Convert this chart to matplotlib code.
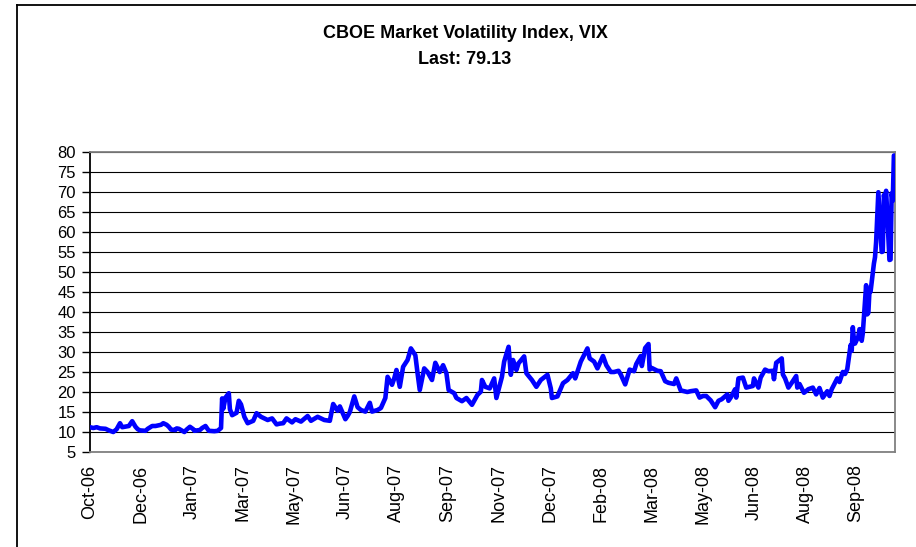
import matplotlib
matplotlib.use('Agg')
import matplotlib.pyplot as plt
from matplotlib.lines import Line2D
import pandas as pd

plt.rcParams['font.family'] = ['Liberation Sans', 'DejaVu Sans']

dates = [
    '2006-10-31', '2006-11-03', '2006-11-06', '2006-11-09', '2006-11-14', '2006-11-17', '2006-11-21',
    '2006-11-24', '2006-11-27', '2006-11-29', '2006-12-01', '2006-12-05', '2006-12-08', '2006-12-11',
    '2006-12-13', '2006-12-15', '2006-12-20', '2006-12-22', '2006-12-26', '2006-12-29', '2007-01-03',
    '2007-01-05', '2007-01-08', '2007-01-10', '2007-01-12', '2007-01-16', '2007-01-17', '2007-01-19',
    '2007-01-24', '2007-01-26', '2007-01-29', '2007-02-01', '2007-02-02', '2007-02-07', '2007-02-09',
    '2007-02-12', '2007-02-15', '2007-02-20', '2007-02-23', '2007-02-26', '2007-02-27', '2007-02-28',
    '2007-03-01', '2007-03-02', '2007-03-05', '2007-03-06', '2007-03-08', '2007-03-12', '2007-03-14',
    '2007-03-16', '2007-03-19', '2007-03-22', '2007-03-27', '2007-03-30', '2007-04-03', '2007-04-09',
    '2007-04-13', '2007-04-17', '2007-04-20', '2007-04-23', '2007-04-26', '2007-05-01', '2007-05-04',
    '2007-05-09', '2007-05-15', '2007-05-18', '2007-05-24', '2007-05-30', '2007-06-04', '2007-06-07',
    '2007-06-11', '2007-06-13', '2007-06-18', '2007-06-20', '2007-06-22', '2007-06-26', '2007-06-29',
    '2007-07-02', '2007-07-06', '2007-07-10', '2007-07-12', '2007-07-17', '2007-07-20', '2007-07-24',
    '2007-07-26', '2007-07-30', '2007-08-01', '2007-08-03', '2007-08-06', '2007-08-09', '2007-08-13',
    '2007-08-16', '2007-08-20', '2007-08-22', '2007-08-24', '2007-08-28', '2007-08-31', '2007-09-04',
    '2007-09-07', '2007-09-11', '2007-09-14', '2007-09-17', '2007-09-19', '2007-09-24', '2007-09-26',
    '2007-10-01', '2007-10-05', '2007-10-10', '2007-10-15', '2007-10-18', '2007-10-19', '2007-10-22',
    '2007-10-26', '2007-10-30', '2007-11-01', '2007-11-06', '2007-11-08', '2007-11-12', '2007-11-14',
    '2007-11-16', '2007-11-19', '2007-11-21', '2007-11-26', '2007-11-28', '2007-12-03', '2007-12-07',
    '2007-12-11', '2007-12-17', '2007-12-20', '2007-12-21', '2007-12-26', '2007-12-31', '2008-01-04',
    '2008-01-09', '2008-01-11', '2008-01-16', '2008-01-22', '2008-01-24', '2008-01-28', '2008-01-31',
    '2008-02-05', '2008-02-08', '2008-02-12', '2008-02-15', '2008-02-19', '2008-02-21', '2008-02-25',
    '2008-02-29', '2008-03-04', '2008-03-06', '2008-03-10', '2008-03-11', '2008-03-14', '2008-03-17',
    '2008-03-18', '2008-03-20', '2008-03-25', '2008-03-28', '2008-04-01', '2008-04-04', '2008-04-09',
    '2008-04-11', '2008-04-15', '2008-04-21', '2008-04-24', '2008-04-29', '2008-05-02', '2008-05-05',
    '2008-05-08', '2008-05-12', '2008-05-16', '2008-05-19', '2008-05-22', '2008-05-27', '2008-05-28',
    '2008-05-30', '2008-06-03', '2008-06-04', '2008-06-06', '2008-06-10', '2008-06-13', '2008-06-19',
    '2008-06-20', '2008-06-24', '2008-06-26', '2008-06-30', '2008-07-03', '2008-07-07', '2008-07-08',
    '2008-07-10', '2008-07-15', '2008-07-16', '2008-07-18', '2008-07-21', '2008-07-24', '2008-07-28',
    '2008-07-29', '2008-07-31', '2008-08-04', '2008-08-08', '2008-08-12', '2008-08-15', '2008-08-18',
    '2008-08-21', '2008-08-25', '2008-08-27', '2008-08-29', '2008-09-03', '2008-09-05', '2008-09-08',
    '2008-09-10', '2008-09-12', '2008-09-15', '2008-09-16', '2008-09-17', '2008-09-18', '2008-09-19',
    '2008-09-22', '2008-09-23', '2008-09-24', '2008-09-25', '2008-09-26', '2008-09-29', '2008-09-30',
    '2008-10-01', '2008-10-02', '2008-10-03', '2008-10-06', '2008-10-07', '2008-10-08', '2008-10-09',
    '2008-10-10', '2008-10-13', '2008-10-14', '2008-10-15', '2008-10-16', '2008-10-17', '2008-10-20',
    '2008-10-21', '2008-10-22', '2008-10-23', '2008-10-24',
]

vix = [
    11.2, 11.0, 11.2, 10.9, 10.8, 10.4, 10.0,
    10.7, 12.2, 11.2, 11.3, 11.5, 12.7, 11.3,
    10.7, 10.4, 10.3, 10.8, 11.5, 11.5, 11.8,
    12.2, 11.8, 11.3, 10.6, 10.5, 10.9, 10.8,
    10.0, 10.6, 11.3, 10.7, 10.3, 10.5, 11.0,
    11.5, 10.3, 10.2, 10.3, 11.0, 18.4, 15.8,
    17.2, 18.6, 19.7, 15.7, 14.2, 14.8, 17.8,
    16.9, 13.8, 12.2, 12.8, 14.7, 13.8, 13.0,
    13.4, 11.9, 12.1, 12.2, 13.4, 12.4, 13.2,
    12.6, 14.0, 12.8, 13.8, 13.0, 12.8, 17.0,
    15.3, 16.4, 13.2, 14.0, 15.0, 18.9, 16.2,
    15.5, 15.1, 17.3, 15.1, 15.5, 16.0, 18.5,
    23.8, 21.8, 23.4, 25.5, 21.3, 26.3, 28.0,
    30.9, 29.2, 24.7, 20.5, 25.9, 25.0, 23.0,
    27.3, 25.0, 26.7, 24.7, 20.5, 19.7, 18.5,
    17.7, 18.5, 16.8, 19.3, 20.1, 23.0, 21.3,
    20.9, 23.4, 18.5, 23.8, 27.6, 31.3, 24.3,
    28.0, 25.5, 27.2, 28.9, 24.7, 23.0, 21.3,
    23.0, 24.3, 20.9, 18.5, 18.9, 22.2, 23.0,
    24.7, 23.4, 27.6, 30.9, 28.4, 27.6, 25.9,
    29.0, 26.7, 25.0, 25.0, 25.3, 24.4, 21.9,
    25.6, 25.2, 27.0, 29.0, 26.5, 31.0, 32.0,
    25.6, 26.0, 25.3, 25.2, 22.7, 22.3, 22.0,
    23.4, 20.4, 20.0, 20.2, 20.4, 18.6, 19.0,
    19.0, 17.9, 16.2, 17.8, 18.2, 19.4, 17.8,
    18.6, 20.7, 18.6, 23.4, 23.6, 21.1, 21.5,
    23.4, 21.1, 23.6, 25.6, 25.2, 25.3, 23.2,
    27.3, 28.4, 24.4, 23.4, 21.1, 22.3, 24.0,
    21.1, 22.0, 19.8, 20.7, 21.1, 19.4, 21.0,
    18.6, 20.2, 19.0, 20.7, 23.4, 22.5, 25.0,
    24.5, 25.7, 31.7, 30.3, 36.2, 33.1, 32.1,
    33.9, 35.7, 35.7, 32.8, 34.7, 46.7, 39.4,
    39.8, 45.3, 45.1, 52.1, 53.7, 57.5, 63.9,
    69.95, 55.0, 55.1, 69.25, 67.6, 70.3, 53.0,
    53.1, 69.65, 67.8, 79.13,
]

tick_dates = ['2006-10-31', '2006-12-16', '2007-01-31', '2007-03-18', '2007-05-03', '2007-06-18',
              '2007-08-03', '2007-09-18', '2007-11-03', '2007-12-19', '2008-02-03', '2008-03-20',
              '2008-05-05', '2008-06-20', '2008-08-05', '2008-09-20']
tick_labels = ['Oct-06', 'Dec-06', 'Jan-07', 'Mar-07', 'May-07', 'Jun-07', 'Aug-07', 'Sep-07',
               'Nov-07', 'Dec-07', 'Feb-08', 'Mar-08', 'May-08', 'Jun-08', 'Aug-08', 'Sep-08']
y_ticks = [5, 10, 15, 20, 25, 30, 35, 40, 45, 50, 55, 60, 65, 70, 75, 80]
title_line1 = 'CBOE Market Volatility Index, VIX'
title_line2 = 'Last: 79.13'

W, H = 916, 547
fig = plt.figure(figsize=(W / 100, H / 100), dpi=100)
ax = fig.add_axes([90 / W, 1 - 452 / H, 805 / W, 300 / H])

x = pd.to_datetime(dates)
ax.plot(x, vix, color='#0000FF', lw=3.3, solid_joinstyle='round', solid_capstyle='round', zorder=3)

ax.set_xlim(pd.Timestamp('2006-10-31'), pd.Timestamp('2008-10-25'))
ax.set_ylim(5, 80)
ax.set_yticks(y_ticks)
ax.set_yticklabels([str(v) for v in y_ticks])
ax.yaxis.grid(True, color='black', lw=0.8)
ax.set_axisbelow(True)

ax.set_xticks(pd.to_datetime(tick_dates))
ax.set_xticklabels(tick_labels, rotation=90, fontsize=13)
ax.tick_params(axis='x', length=0, pad=9)
ax.tick_params(axis='y', length=6, width=1, direction='out', pad=4, labelsize=12, color='black')

for side in ['top', 'right', 'bottom']:
    ax.spines[side].set_color('#808080')
    ax.spines[side].set_linewidth(1.3)
ax.spines['left'].set_color('black')
ax.spines['left'].set_linewidth(1.3)

fig.text(465 / W, 1 - 33 / H, title_line1, ha='center', va='center', fontsize=13, fontweight='bold')
fig.text(465 / W, 1 - 60 / H, title_line2, ha='center', va='center', fontsize=13, fontweight='bold')

fig.add_artist(Line2D([17 / W, 17 / W], [0, 1 - 5 / H], transform=fig.transFigure, color='black', lw=1.3))
fig.add_artist(Line2D([17 / W, 1], [1 - 5 / H, 1 - 5 / H], transform=fig.transFigure, color='black', lw=1.3))

fig.savefig('out.png', dpi=100)
